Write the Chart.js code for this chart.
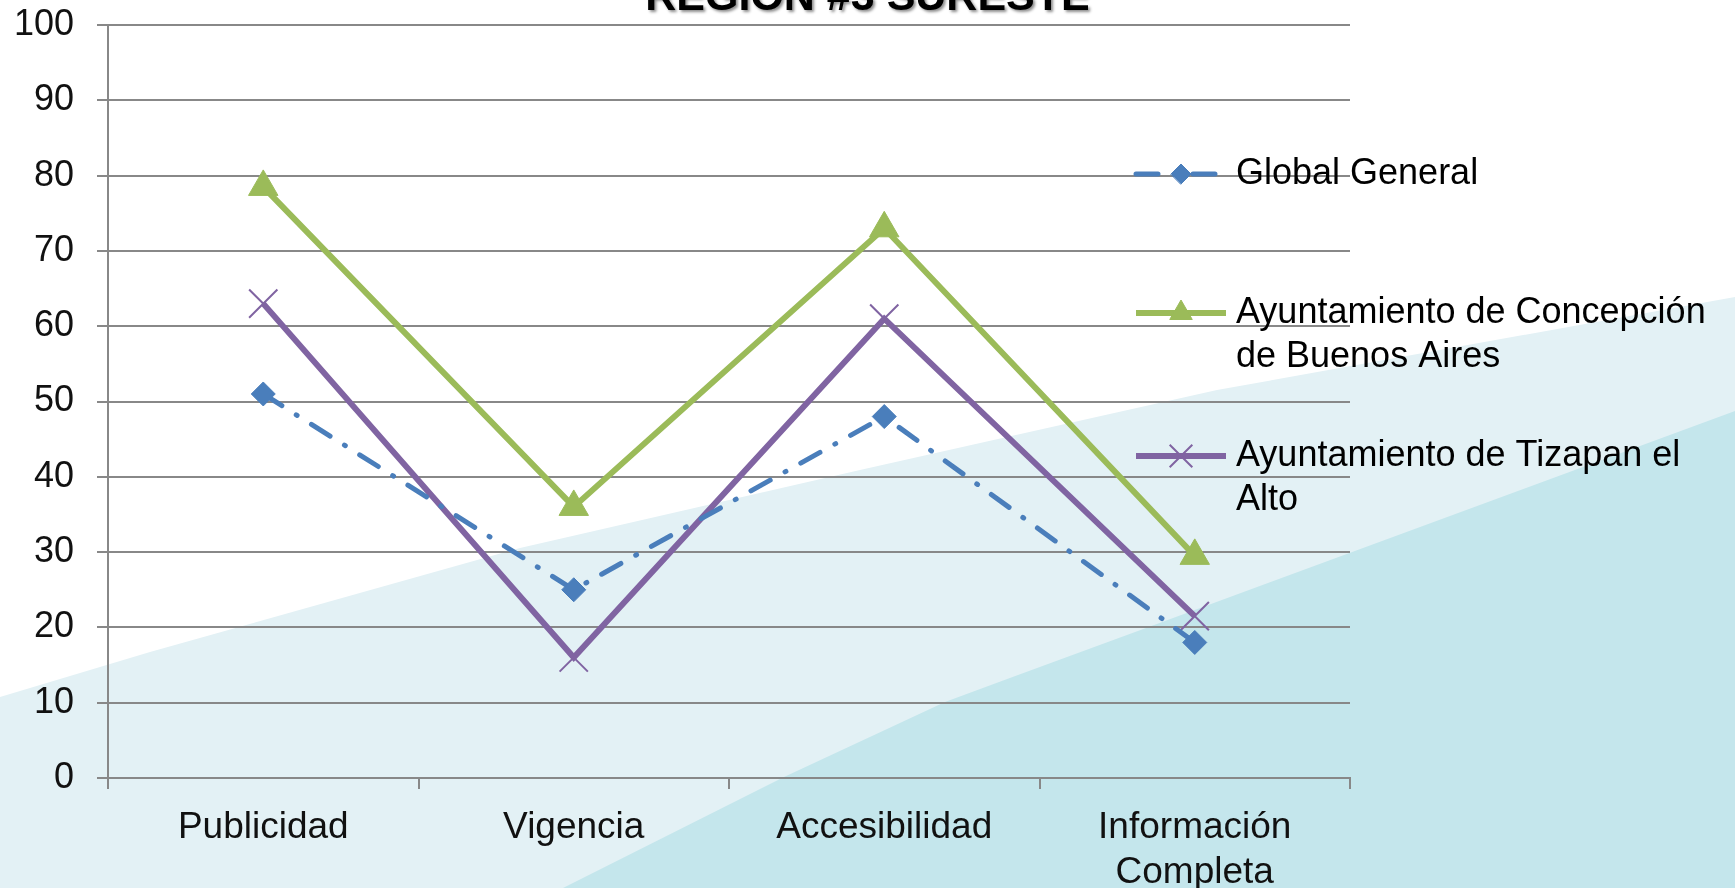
<!DOCTYPE html>
<html>
<head>
<meta charset="utf-8">
<script src="https://cdn.jsdelivr.net/npm/chart.js@4/dist/chart.umd.min.js"></script>
<style>
  html, body { margin: 0; padding: 0; background: #fff; overflow: hidden; }
  #fondo { position: absolute; left: 0; top: 0; }
  #marco { position: absolute; left: 0; top: -27px; width: 1735px; height: 915px; }
</style>
</head>
<body>
<svg id="fondo" width="1735" height="888">
  <path d="M0,697 L150,652 L520,548 L860,470 L1217,390 L1735,297 L1735,888 L0,888 Z" fill="#e3f1f5"/>
  <path d="M563,888 L784,777 L945,702 L1146,628 L1735,411 L1735,888 Z" fill="#c4e6ec"/>
</svg>
<div id="marco"><canvas id="grafica"></canvas></div>
<script>
const categorias = ["Publicidad", "Vigencia", "Accesibilidad", ["Información", "Completa"]];
const globalGeneral = [51, 25, 48, 18];
const concepcion = [78.5, 36, 73, 29.5];
const tizapan = [63, 16, 61, 21.5];
const nombres = [["Global General"], ["Ayuntamiento de Concepción", "de Buenos Aires"], ["Ayuntamiento de Tizapan el", "Alto"]];

const fuente = '"Liberation Sans", Arial, sans-serif';

// sombra del titulo, como en el original
const sombraTitulo = {
    id: 'sombraTitulo',
    beforeDraw(chart) {
        const t = chart.titleBlock;
        if (!t || t._conSombra) return;
        const dibujar = t.draw.bind(t);
        t.draw = function () {
            const ctx = chart.ctx;
            ctx.save();
            ctx.shadowColor = 'rgba(0,0,0,0.45)';
            ctx.shadowOffsetX = 2;
            ctx.shadowOffsetY = 2;
            ctx.shadowBlur = 3;
            dibujar();
            ctx.restore();
        };
        t._conSombra = true;
    }
};

// leyenda a la derecha, con textos de dos lineas
const leyenda = {
    id: 'leyenda',
    afterDraw(chart) {
        const ctx = chart.ctx;
        const filas = [201, 340, 483];
        const radios = [10, 13, 16];
        chart.data.datasets.forEach((ds, i) => {
            const y = filas[i];
            ctx.save();
            ctx.strokeStyle = ds.borderColor;
            ctx.lineWidth = ds.borderWidth;
            ctx.lineCap = ds.borderCapStyle || 'butt';
            ctx.setLineDash(ds.borderDash || []);
            ctx.beginPath();
            ctx.moveTo(1136, y);
            ctx.lineTo(1226, y);
            ctx.stroke();
            ctx.setLineDash([]);
            ctx.fillStyle = ds.pointBackgroundColor;
            ctx.strokeStyle = ds.pointBorderColor;
            ctx.lineWidth = ds.pointBorderWidth;
            Chart.helpers.drawPoint(ctx, {
                pointStyle: ds.pointStyle, radius: radios[i], borderWidth: ds.pointBorderWidth, rotation: 0
            }, 1181, y);
            ctx.fillStyle = '#000';
            ctx.font = '36px ' + fuente;
            ctx.textBaseline = 'middle';
            nombres[i].forEach((t, j) => ctx.fillText(t, 1236, y + j * 44));
            ctx.restore();
        });
    }
};

new Chart("grafica", {
    type: "line",
    data: {
        labels: categorias,
        datasets: [
            {
                label: nombres[0].join(" "),
                data: globalGeneral,
                borderColor: "#4a7ebb",
                borderWidth: 5,
                borderDash: [22, 17, 1, 17],
                borderCapStyle: 'round',
                pointStyle: 'rectRot',
                pointRadius: 12,
                pointBackgroundColor: "#4a7ebb",
                pointBorderColor: "#4a7ebb",
                pointBorderWidth: 1,
                tension: 0
            },
            {
                label: nombres[1].join(" "),
                data: concepcion,
                borderColor: "#9bbb59",
                borderWidth: 6,
                pointStyle: 'triangle',
                pointRadius: 17,
                pointBackgroundColor: "#9bbb59",
                pointBorderColor: "#9bbb59",
                pointBorderWidth: 1,
                tension: 0
            },
            {
                label: nombres[2].join(" "),
                data: tizapan,
                borderColor: "#8064a2",
                borderWidth: 6,
                pointStyle: 'crossRot',
                pointRadius: 20,
                pointBackgroundColor: "#8064a2",
                pointBorderColor: "#8064a2",
                pointBorderWidth: 2,
                tension: 0
            }
        ]
    },
    options: {
        responsive: true,
        maintainAspectRatio: false,
        animation: false,
        plugins: {
            legend: { display: false },
            tooltip: { enabled: false },
            title: {
                display: true,
                text: "REGION #3 SURESTE",
                color: '#000',
                font: { family: fuente, size: 43, weight: 'bold', lineHeight: 1.0 },
                padding: { top: 4, bottom: 5 }
            }
        },
        scales: {
            x: {
                offset: true,
                afterFit: (s) => { s.height = 110; },
                grid: {
                    offset: true,
                    drawOnChartArea: false,
                    drawTicks: true,
                    tickLength: 11,
                    color: '#888',
                    lineWidth: 2
                },
                border: { display: true, color: '#888', width: 2 },
                ticks: {
                    color: '#111',
                    padding: 16,
                    maxRotation: 0,
                    autoSkip: false,
                    font: { family: fuente, size: 37, lineHeight: 1.22 }
                }
            },
            y: {
                min: 0,
                max: 100,
                afterFit: (s) => { s.width = 108; },
                grid: {
                    color: '#888',
                    lineWidth: 2,
                    drawTicks: true,
                    tickLength: 11
                },
                border: { display: true, color: '#888', width: 2 },
                ticks: {
                    stepSize: 10,
                    color: '#111',
                    padding: 23,
                    font: { family: fuente, size: 36 }
                }
            },
            // espacio vacio a la derecha para la leyenda
            derecha: {
                type: 'linear',
                position: 'right',
                afterFit: (s) => { s.width = 385; },
                grid: { display: false },
                border: { display: false },
                ticks: { display: false }
            }
        }
    },
    plugins: [sombraTitulo, leyenda]
});
</script>
</body>
</html>
